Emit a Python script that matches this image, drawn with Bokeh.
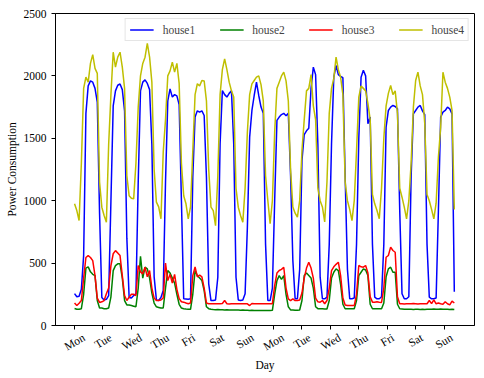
import math
import numpy as np
from bokeh.plotting import figure
from bokeh.models import FixedTicker, Range1d, Legend, LegendItem, LinearAxis
from bokeh.embed import file_html
from bokeh.resources import INLINE

# ---------------- data (2-hourly samples, 12 per day, 14 days) ----------------
day_labels = ["Mon", "Tue", "Wed", "Thu", "Fri", "Sat", "Sun",
              "Mon", "Tue", "Wed", "Thu", "Fri", "Sat", "Sun"]
tick_pos = [0, 25, 50, 75, 100, 125, 150, 175, 200, 225, 250, 275, 300, 325]
y_ticks = [0, 500, 1000, 1500, 2000, 2500]

hours = list(range(0, 336, 2))

house1 = [
    255, 230, 235, 290, 560, 1700, 1920, 1960, 1950, 1900, 1790, 900,
    225, 205, 210, 240, 1000, 1760, 1880, 1925, 1935, 1890, 1720, 700,
    225, 220, 240, 255, 1150, 1880, 1950, 1968, 1940, 1890, 1450, 390,
    205, 200, 225, 280, 1150, 1800, 1896, 1830, 1850, 1840, 1770, 1000,
    214, 212, 210, 214, 1190, 1670, 1720, 1710, 1720, 1683, 1190, 334,
    200, 200, 205, 387, 1455, 1883, 1850, 1830, 1860, 1880, 1455, 387,
    205, 200, 205, 254, 788, 1509, 1723, 1843, 1950, 1843, 1750, 1700,
    650, 200, 200, 300, 1000, 1643, 1670, 1690, 1700, 1680, 1700, 1200,
    520, 214, 214, 450, 1320, 1530, 1560, 1580, 1900, 2070, 2010, 1450,
    387, 214, 214, 227, 650, 1455, 1990, 2083, 2010, 1995, 1985, 1190,
    450, 214, 214, 220, 650, 1500, 1990, 2045, 2000, 1616, 1670, 650,
    227, 214, 214, 230, 650, 1590, 1723, 1750, 1763, 1755, 1736, 920,
    254, 214, 214, 230, 1190, 1696, 1723, 1750, 1763, 1720, 1690, 650,
    227, 214, 214, 220, 920, 1670, 1710, 1723, 1750, 1736, 1696, 270,
]

house2 = [
    136, 130, 130, 135, 250, 460, 470, 430, 410, 400, 200, 140,
    140, 135, 135, 140, 230, 440, 480, 494, 494, 380, 200, 165,
    165, 160, 155, 150, 300, 555, 380, 467, 454, 380, 260, 180,
    150, 145, 140, 140, 300, 440, 420, 380, 340, 250, 170, 140,
    135, 132, 130, 130, 250, 440, 400, 380, 360, 280, 150, 135,
    130, 128, 127, 128, 126, 127, 125, 126, 125, 124, 125, 124,
    124, 123, 124, 122, 123, 121, 122, 121, 120, 121, 120, 120,
    120, 120, 120, 122, 250, 360, 400, 370, 400, 250, 150, 125,
    125, 122, 122, 124, 200, 400, 420, 400, 380, 300, 150, 135,
    134, 134, 132, 132, 200, 380, 427, 454, 440, 330, 170, 134,
    134, 134, 134, 134, 200, 400, 427, 454, 445, 400, 170, 134,
    134, 134, 134, 134, 180, 390, 454, 467, 427, 427, 170, 134,
    132, 130, 130, 131, 130, 129, 130, 130, 129, 130, 129, 130,
    130, 130, 132, 131, 130, 132, 130, 131, 130, 128, 130, 128,
]

house3 = [
    180, 160, 178, 200, 380, 545, 560, 545, 520, 400, 220, 185,
    190, 200, 254, 300, 480, 575, 600, 580, 560, 400, 240, 200,
    227, 250, 250, 240, 480, 430, 414, 467, 390, 440, 300, 220,
    200, 200, 205, 220, 500, 360, 410, 340, 410, 290, 215, 190,
    187, 180, 174, 180, 400, 470, 390, 405, 390, 300, 180, 175,
    175, 174, 174, 175, 174, 176, 200, 174, 172, 174, 175, 174,
    174, 174, 175, 174, 174, 160, 176, 174, 174, 174, 174, 174,
    174, 174, 174, 175, 320, 420, 441, 450, 467, 300, 214, 200,
    214, 200, 200, 205, 260, 380, 460, 507, 460, 380, 220, 190,
    187, 200, 174, 200, 300, 440, 470, 490, 507, 400, 220, 165,
    160, 160, 160, 160, 250, 481, 470, 467, 481, 420, 230, 187,
    187, 190, 187, 185, 300, 547, 561, 628, 601, 587, 230, 175,
    174, 172, 174, 175, 174, 176, 174, 172, 174, 175, 174, 174,
    200, 175, 205, 174, 180, 174, 170, 190, 174, 165, 195, 180,
]

house4 = [
    975, 921, 841, 1300, 1900, 1990, 1950, 2100, 2170, 2060, 2020, 1150,
    948, 881, 828, 1450, 1850, 2190, 2070, 2150, 2190, 2070, 1900, 1200,
    1040, 1020, 1015, 1300, 1750, 2000, 2100, 2150, 2260, 2150, 1950, 1250,
    988, 950, 855, 1390, 1650, 2000, 2040, 2110, 2030, 2100, 1940, 1300,
    1040, 975, 855, 950, 1400, 1850, 1937, 1920, 1963, 1960, 1800, 1250,
    948, 921, 800, 1200, 1850, 2050, 2137, 2050, 1950, 1880, 1830, 1100,
    948, 881, 828, 1100, 1550, 1850, 1936, 1963, 1990, 2000, 1930, 1800,
    1200, 1000, 815, 1000, 1550, 1900, 1950, 2000, 2030, 1960, 1800, 1250,
    950, 900, 868, 1000, 1400, 1650, 1880, 1900, 2010, 1760, 1650, 1100,
    1000, 950, 830, 1150, 1700, 1900, 1980, 2150, 2050, 1990, 1850, 1150,
    1000, 930, 841, 1000, 1400, 1830, 1920, 1900, 1880, 1780, 1650, 1050,
    975, 921, 855, 1100, 1500, 1760, 1860, 1923, 1850, 1880, 1700, 1100,
    1028, 948, 855, 1000, 1300, 1750, 1963, 2030, 1920, 1850, 1620, 1050,
    1000, 930, 855, 980, 1350, 1589, 2030, 1950, 1900, 1830, 1723, 930,
]

series_names = ["house1", "house2", "house3", "house4"]
series_colors = ["#0000ff", "#008000", "#ff0000", "#bfbf00"]

# ---------------- figure ----------------
FONT = "Liberation Serif"
FSIZE = "11.5px"
x_end = 335
pad = 0.05 * x_end

p = figure(frame_width=419, frame_height=312,
           x_range=Range1d(-pad, x_end + pad), y_range=Range1d(0, 2500),
           output_backend="svg", toolbar_location=None,
           min_border_left=55, min_border_right=10,
           min_border_top=13, min_border_bottom=53,
           background_fill_color="white", border_fill_color="white")

p.xgrid.visible = False
p.ygrid.visible = False
p.outline_line_color = "black"
p.outline_line_width = 1
p.outline_line_alpha = 1

renderers = []
for name, col, vals in zip(series_names, series_colors, [house1, house2, house3, house4]):
    r = p.line(hours, vals, line_color=col, line_width=1.5)
    renderers.append((name, r))

legend = Legend(items=[LegendItem(label=n, renderers=[r]) for n, r in renderers],
                orientation="horizontal", location="top_right",
                label_text_font=FONT, label_text_font_size=FSIZE,
                glyph_width=24, glyph_height=13, label_height=13,
                label_standoff=9, spacing=24, padding=4, margin=5,
                border_line_color="#cccccc", border_line_width=1,
                background_fill_alpha=0.8)
p.add_layout(legend)


def style_axis(ax):
    ax.axis_line_color = "black"
    ax.major_tick_line_color = "black"
    ax.major_tick_in = 0
    ax.major_tick_out = 4
    ax.minor_tick_line_color = None
    ax.major_label_text_font = FONT
    ax.major_label_text_font_size = FSIZE
    ax.major_label_text_color = "black"
    ax.axis_label_text_font = FONT
    ax.axis_label_text_font_size = FSIZE
    ax.axis_label_text_font_style = "normal"
    ax.axis_label_text_color = "black"


style_axis(p.xaxis[0])
style_axis(p.yaxis[0])

# main x axis: tick marks only
p.xaxis[0].ticker = FixedTicker(ticks=tick_pos)
p.xaxis[0].major_label_text_color = None
p.xaxis[0].major_label_standoff = 0

# second x axis: rotated day names, each centred on its tick
# (Bokeh anchors rotated labels at their right end, so the anchor is moved
#  right by half the label's run, expressed in axis units)
label_offset = [8.3, 6.8, 8.3, 7.1, 5.1, 5.6, 6.8,
                8.3, 6.8, 8.3, 7.1, 5.1, 5.6, 6.8]
label_pos = [t + o for t, o in zip(tick_pos, label_offset)]
lab_ax = LinearAxis(ticker=FixedTicker(ticks=label_pos))
style_axis(lab_ax)
lab_ax.axis_line_color = None
lab_ax.major_tick_line_color = None
lab_ax.major_tick_out = 0
lab_ax.major_label_overrides = {pos: d for pos, d in zip(label_pos, day_labels)}
lab_ax.major_label_orientation = math.pi / 6
lab_ax.major_label_standoff = 7
lab_ax.axis_label = "Day"
lab_ax.axis_label_standoff = -2
p.add_layout(lab_ax, "below")

p.yaxis.ticker = FixedTicker(ticks=y_ticks)
p.yaxis.major_label_standoff = 5
p.yaxis.axis_label = "Power Consumption"
p.yaxis.axis_label_standoff = 3

open("out.html", "w").write(file_html(p, INLINE))
